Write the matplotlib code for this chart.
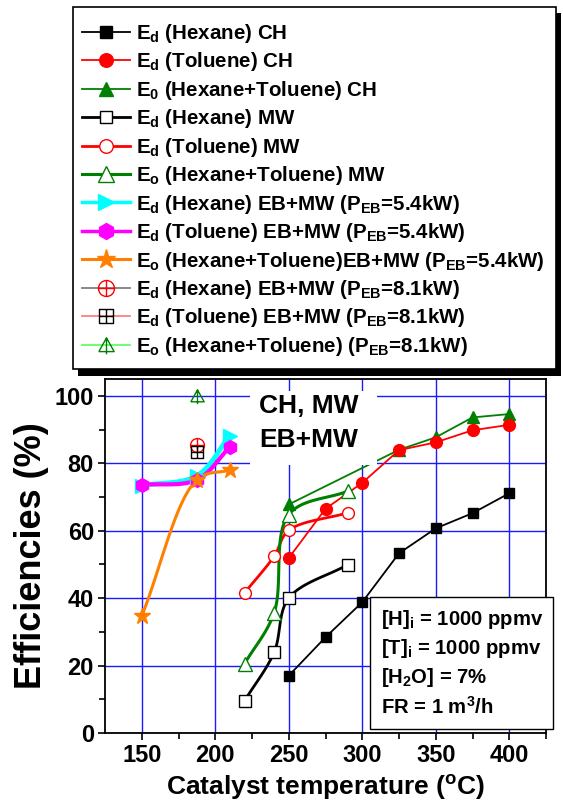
import numpy as np
import matplotlib
matplotlib.use('Agg')
import matplotlib.pyplot as plt
from matplotlib.path import Path
from matplotlib.lines import Line2D
from matplotlib.patches import Rectangle

plt.rcParams['font.family'] = 'Liberation Sans'
plt.rcParams['font.weight'] = 'bold'
plt.rcParams['axes.labelweight'] = 'bold'
plt.rcParams['mathtext.fontset'] = 'custom'
plt.rcParams['mathtext.rm'] = 'Liberation Sans:bold'
plt.rcParams['mathtext.it'] = 'Liberation Sans:bold'
plt.rcParams['mathtext.bf'] = 'Liberation Sans:bold'
plt.rcParams['mathtext.default'] = 'regular'

# conventional heating (CH)
t_ch = [250, 275, 300, 325, 350, 375, 400]
hex_ch = [17.0, 28.4, 38.8, 53.3, 60.7, 65.2, 71.1]
tol_ch = [51.9, 66.5, 74.2, 83.9, 86.2, 89.8, 91.4]
t_ch_o = [250, 325, 350, 375, 400]
all_ch = [67.8, 84.0, 87.7, 93.6, 94.6]

# microwave heating (MW)
t_mw = [220, 240, 250, 290]
hex_mw = [9.6, 23.9, 40.0, 49.9]
tol_mw = [41.6, 52.4, 60.1, 65.3]
all_mw = [20.6, 35.6, 64.8, 71.7]

# electron beam + MW, P_EB = 5.4 kW
t_eb54 = [150, 187.5, 210]
hex_eb54 = [73.4, 76.3, 88.2]
tol_eb54 = [73.6, 75.1, 84.9]
all_eb54 = [34.7, 75.1, 78.0]

# electron beam + MW, P_EB = 8.1 kW
t_eb81 = [187.5]
hex_eb81 = [85.5]
tol_eb81 = [83.4]
all_eb81 = [100.0]

labels = [
    r'E$_d$ (Hexane) CH',
    r'E$_d$ (Toluene) CH',
    r'E$_0$ (Hexane+Toluene) CH',
    r'E$_d$ (Hexane) MW',
    r'E$_d$ (Toluene) MW',
    r'E$_o$ (Hexane+Toluene) MW',
    r'E$_d$ (Hexane) EB+MW (P$_{EB}$=5.4kW)',
    r'E$_d$ (Toluene) EB+MW (P$_{EB}$=5.4kW)',
    r'E$_o$ (Hexane+Toluene)EB+MW (P$_{EB}$=5.4kW)',
    r'E$_d$ (Hexane) EB+MW (P$_{EB}$=8.1kW)',
    r'E$_d$ (Toluene) EB+MW (P$_{EB}$=8.1kW)',
    r'E$_o$ (Hexane+Toluene) (P$_{EB}$=8.1kW)',
]

W, H = 563, 805
XLIM = (125, 425)
YLIM = (0, 105)
ax_px = (105, 733, 546, 379)  # left, bottom, right, top in pixels
sx = (ax_px[2] - ax_px[0]) / (XLIM[1] - XLIM[0])
sy = (ax_px[1] - ax_px[3]) / (YLIM[1] - YLIM[0])


def smooth(xs, ys, n=40):
    # centripetal Catmull-Rom through the points, computed in screen units
    p = np.column_stack([np.asarray(xs, float) * sx, np.asarray(ys, float) * sy])
    p = np.vstack([2 * p[0] - p[1], p, 2 * p[-1] - p[-2]])
    out = []
    for i in range(1, len(p) - 2):
        p0, p1, p2, p3 = p[i - 1], p[i], p[i + 1], p[i + 2]
        t0 = 0.0
        t1 = t0 + np.linalg.norm(p1 - p0) ** 0.5
        t2 = t1 + np.linalg.norm(p2 - p1) ** 0.5
        t3 = t2 + np.linalg.norm(p3 - p2) ** 0.5
        t = np.linspace(t1, t2, n)[:, None]
        a1 = (t1 - t) / (t1 - t0) * p0 + (t - t0) / (t1 - t0) * p1
        a2 = (t2 - t) / (t2 - t1) * p1 + (t - t1) / (t2 - t1) * p2
        a3 = (t3 - t) / (t3 - t2) * p2 + (t - t2) / (t3 - t2) * p3
        b1 = (t2 - t) / (t2 - t0) * a1 + (t - t0) / (t2 - t0) * a2
        b2 = (t3 - t) / (t3 - t1) * a2 + (t - t1) / (t3 - t1) * a3
        c = (t2 - t) / (t2 - t1) * b1 + (t - t1) / (t2 - t1) * b2
        out.append(c if i == 1 else c[1:])
    c = np.vstack(out)
    return c[:, 0] / sx, c[:, 1] / sy


# open markers with a cross / bar inside
circ_plus = Path.make_compound_path(Path.unit_circle(),
                                    Path([(-1, 0), (1, 0)]), Path([(0, -1), (0, 1)]))
sq_plus = Path.make_compound_path(Path([(-1, -1), (1, -1), (1, 1), (-1, 1), (-1, -1)]),
                                  Path([(-1, 0), (1, 0)]), Path([(0, -1), (0, 1)]))
tri_bar = Path.make_compound_path(Path([(-1, -0.8), (1, -0.8), (0, 1), (-1, -0.8)]),
                                  Path([(0, 1), (0, -1.15)]))

GREEN = '#008000'
ORANGE = '#ff8000'

fig = plt.figure(figsize=(W / 100, H / 100), dpi=100)
ax = fig.add_axes([ax_px[0] / W, (H - ax_px[1]) / H,
                   (ax_px[2] - ax_px[0]) / W, (ax_px[1] - ax_px[3]) / H])

styles = []  # (color, lw, marker, ms, mfc, mec) for legend

# CH: straight segments
s = dict(color='black', lw=1.3, marker='s', ms=7, mfc='black', mec='black')
ax.plot(t_ch, hex_ch, **s, zorder=4); styles.append(s)
s = dict(color='red', lw=1.3, marker='o', ms=8.5, mfc='red', mec='red')
ax.plot(t_ch, tol_ch, **s, zorder=4.2); styles.append(s)
s = dict(color=GREEN, lw=1.3, marker='^', ms=9, mfc=GREEN, mec=GREEN)
ax.plot(t_ch_o, all_ch, **s, zorder=4.1); styles.append(s)

# MW and EB+MW: smoothed curves
smooth_series = [
    (t_mw, hex_mw, dict(color='black', lw=2.0, marker='s', ms=8, mfc='white', mec='black', mew=1.0)),
    (t_mw, tol_mw, dict(color='red', lw=2.0, marker='o', ms=8.5, mfc='white', mec='red', mew=1.0)),
    (t_mw, all_mw, dict(color=GREEN, lw=2.2, marker='^', ms=9.5, mfc='white', mec=GREEN, mew=1.0)),
    (t_eb54, hex_eb54, dict(color='cyan', lw=3.5, marker='>', ms=10, mfc='cyan', mec='cyan')),
    (t_eb54, tol_eb54, dict(color='magenta', lw=3.0, marker='h', ms=10, mfc='magenta', mec='magenta')),
    (t_eb54, all_eb54, dict(color=ORANGE, lw=2.2, marker='*', ms=12, mfc=ORANGE, mec=ORANGE)),
]
for xs, ys, s in smooth_series:
    cx, cy = smooth(xs, ys)
    ax.plot(cx, cy, color=s['color'], lw=s['lw'], zorder=3)
    ax.plot(xs, ys, ls='none', marker=s['marker'], ms=s['ms'], mfc=s['mfc'],
            mec=s['mec'], mew=s.get('mew', 1.0), zorder=5)
    styles.append(s)

# EB+MW 8.1 kW: single points
s = dict(color='#808080', lw=1.2, marker=circ_plus, ms=10, mfc='none', mec='red', mew=1.0)
ax.plot(t_eb81, hex_eb81, ls='none', marker=s['marker'], ms=s['ms'], mfc='none', mec='red', mew=1.0, zorder=6); styles.append(s)
s = dict(color='#ff8080', lw=1.2, marker=sq_plus, ms=9, mfc='none', mec='black', mew=1.0)
ax.plot(t_eb81, tol_eb81, ls='none', marker=s['marker'], ms=s['ms'], mfc='none', mec='black', mew=1.0, zorder=6); styles.append(s)
s = dict(color='#60ff60', lw=1.2, marker=tri_bar, ms=11, mfc='none', mec=GREEN, mew=1.0)
ax.plot(t_eb81, all_eb81, ls='none', marker=s['marker'], ms=s['ms'], mfc='none', mec=GREEN, mew=1.0, zorder=6); styles.append(s)

ax.set_xlim(*XLIM)
ax.set_ylim(*YLIM)
ax.set_xticks([150, 200, 250, 300, 350, 400])
ax.set_xticks([175, 225, 275, 325, 375, 425], minor=True)
ax.set_yticks([0, 20, 40, 60, 80, 100])
ax.set_yticks([10, 30, 50, 70, 90], minor=True)
ax.grid(True, which='major', color='#1a1aff', lw=1.0, zorder=0)
ax.tick_params(which='both', direction='out', width=1.2, labelsize=17)
ax.tick_params(which='major', length=5, pad=3)
ax.tick_params(which='minor', length=4)
for sp in ax.spines.values():
    sp.set_linewidth(1.3)
ax.set_axisbelow(True)

ax.set_xlabel(r'Catalyst temperature ($^o$C)', fontsize=19, labelpad=4)
ax.set_ylabel('Efficiencies (%)', fontsize=26, labelpad=4)

# heating-mode caption on a white patch
ax.add_patch(Rectangle((223.7, 79.5), 86.1, 22.0, facecolor='white', edgecolor='none', zorder=7))
ax.text(229.9, 97.0, 'CH, MW', fontsize=19, va='center', ha='left', zorder=8)
ax.text(229.9, 86.9, 'EB+MW', fontsize=19, va='center', ha='left', zorder=8)

# operating conditions box
ax.add_patch(Rectangle((305.4, 1.2), 124.6, 39.1, facecolor='white', edgecolor='black',
                       lw=1.0, zorder=7, clip_on=False))
cond = [r'[H]$_i$ = 1000 ppmv', r'[T]$_i$ = 1000 ppmv', r'[H$_2$O] = 7%', r'FR = 1 m$^3$/h']
for k, line in enumerate(cond):
    ax.text(312.6, 33.7 - k * 8.65, line, fontsize=14.6, va='center', ha='left', zorder=8, clip_on=False)

# legend: frame and solid black drop shadow drawn by hand
fig.patches.append(Rectangle((78 / W, 1 - 376 / H), 483 / W, 363 / H, facecolor='black',
                             edgecolor='none', transform=fig.transFigure, zorder=3))
fig.patches.append(Rectangle((73 / W, 1 - 369 / H), 483 / W, 362 / H, facecolor='white',
                             edgecolor='black', lw=1.2, transform=fig.transFigure, zorder=4))
handles = [Line2D([], [], color=s['color'], lw=max(s['lw'], 1.3) if s['lw'] < 3 else 2.5,
                  marker=s['marker'], ms=s['ms'] * 1.15, mfc=s['mfc'], mec=s['mec'],
                  mew=s.get('mew', 1.0)) for s in styles]
leg = fig.legend(handles, labels, loc='upper left', bbox_to_anchor=(82 / W, 1 - 22 / H),
                 bbox_transform=fig.transFigure, fontsize=14.8, frameon=False,
                 handlelength=2.35, handletextpad=0.3, labelspacing=0.265,
                 borderpad=0, borderaxespad=0)
leg.set_zorder(5)

fig.savefig('out.png', dpi=100)
